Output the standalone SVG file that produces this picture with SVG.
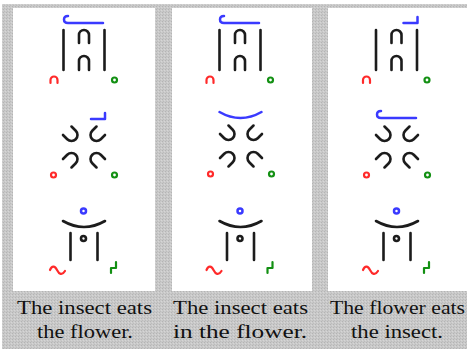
<svg xmlns="http://www.w3.org/2000/svg" xmlns:xlink="http://www.w3.org/1999/xlink" width="467" height="349" viewBox="0 0 467 349">
<style>
.k{stroke:#1c1c1c;stroke-width:2.6;fill:none;stroke-linecap:round;stroke-linejoin:round}
.b{stroke:#3a3aff;stroke-width:2.5;fill:none;stroke-linecap:round;stroke-linejoin:round}
.r{stroke:#ff2a2a;stroke-width:2.2;fill:none;stroke-linecap:round;stroke-linejoin:round}
.g{stroke:#139013;stroke-width:2.2;fill:none;stroke-linecap:round;stroke-linejoin:round}
.t{font-family:"Liberation Serif","Times New Roman",serif;font-size:18.5px;fill:#111}
.panel{fill:#ffffff}
</style>
<defs>
<pattern id="dots" width="3" height="3" patternUnits="userSpaceOnUse">
<rect width="3" height="3" fill="#c9c9c9"/>
<rect x="0" y="0" width="1" height="1" fill="#b4b4b4"/>
<rect x="2" y="1" width="1" height="1" fill="#d6d6d6"/>
<rect x="1" y="2" width="1" height="1" fill="#bcbcbc"/>
</pattern>
<g id="archBlock">
<path class="k" d="M-20.5,30 V70 M20.5,30 V70"/>
<path class="k" d="M-5,43 V35 A5,5 0 0 1 5,35 V43"/>
<path class="k" d="M-5,70 V61 A5,5 0 0 1 5,61 V70"/>
<path class="r" d="M-33.5,83 V80 A3.5,3.5 0 0 1 -26.5,80 V83"/>
<circle class="g" cx="30.5" cy="80" r="2.5"/>
</g>
<path id="hookLine" class="b" d="M-16,16 Q-20,16 -20,19.5 Q-20,23 -16,23 H19"/>
<path id="corner" class="b" d="M7,23 H21 V17"/>
<path id="blueSmile" class="b" d="M-21,112 Q0,124 21,112"/>
<path id="u" class="k" d="M-6,-6 V0 A6,6 0 0 0 6,0 V-6"/>
<g id="xBlock">
<use xlink:href="#u" transform="translate(-12.5,135) rotate(-45)"/>
<use xlink:href="#u" transform="translate(12.5,135) rotate(45)"/>
<use xlink:href="#u" transform="translate(-12.5,159) rotate(-135)"/>
<use xlink:href="#u" transform="translate(12.5,159) rotate(135)"/>
<circle class="r" cx="-30.5" cy="175" r="2.5"/>
<circle class="g" cx="30.5" cy="175" r="2.5"/>
</g>
<g id="bottomBlock">
<circle class="b" cx="-0.5" cy="211" r="2.5"/>
<path class="k" d="M-21,221 Q0,233 21,221"/>
<path class="k" d="M-13.5,233 V260 M13.5,233 V260"/>
<circle class="k" cx="-0.5" cy="238.5" r="2.5"/>
<path class="r" d="M-34,270 C-32,265 -29,266 -27,270 S-22,276 -19,271"/>
<path class="g" d="M27,273 V268 H32 V262"/>
</g>
</defs>
<rect x="0" y="0" width="467" height="349" fill="#ffffff"/>
<rect x="2" y="4" width="465" height="345" fill="url(#dots)"/>
<g id="panel1">
<rect class="panel" x="13" y="8" width="142" height="283"/>
<g id="p1-top">
<use xlink:href="#hookLine" x="84" y="0"/>
<use xlink:href="#archBlock" x="84" y="0"/>
</g>
<g id="p1-mid">
<use xlink:href="#corner" x="84" y="96"/>
<use xlink:href="#xBlock" x="84" y="0"/>
</g>
<g id="p1-bot">
<use xlink:href="#bottomBlock" x="84" y="0"/>
</g>
<text class="t" x="17" y="314" textLength="135" lengthAdjust="spacingAndGlyphs">The insect eats</text>
<text class="t" x="37" y="338" textLength="96" lengthAdjust="spacingAndGlyphs">the flower.</text>
</g>
<g id="panel2">
<rect class="panel" x="172" y="8" width="140" height="283"/>
<g id="p2-top">
<use xlink:href="#hookLine" x="240" y="0"/>
<use xlink:href="#archBlock" x="240" y="0"/>
</g>
<g id="p2-mid">
<use xlink:href="#blueSmile" x="240.5" y="0"/>
<use xlink:href="#xBlock" x="241" y="-1"/>
</g>
<g id="p2-bot">
<use xlink:href="#bottomBlock" x="240.5" y="0"/>
</g>
<text class="t" x="173" y="314" textLength="135" lengthAdjust="spacingAndGlyphs">The insect eats</text>
<text class="t" x="173" y="338" textLength="134" lengthAdjust="spacingAndGlyphs">in the flower.</text>
</g>
<g id="panel3">
<rect class="panel" x="328" y="8" width="139" height="283"/>
<g id="p3-top">
<use xlink:href="#corner" x="396.5" y="0"/>
<use xlink:href="#archBlock" x="396.5" y="0"/>
</g>
<g id="p3-mid">
<use xlink:href="#hookLine" x="397" y="95"/>
<use xlink:href="#xBlock" x="397" y="0"/>
</g>
<g id="p3-bot">
<use xlink:href="#bottomBlock" x="397" y="0"/>
</g>
<text class="t" x="330" y="314" textLength="135" lengthAdjust="spacingAndGlyphs">The flower eats</text>
<text class="t" x="351" y="338" textLength="92" lengthAdjust="spacingAndGlyphs">the insect.</text>
</g>
</svg>
